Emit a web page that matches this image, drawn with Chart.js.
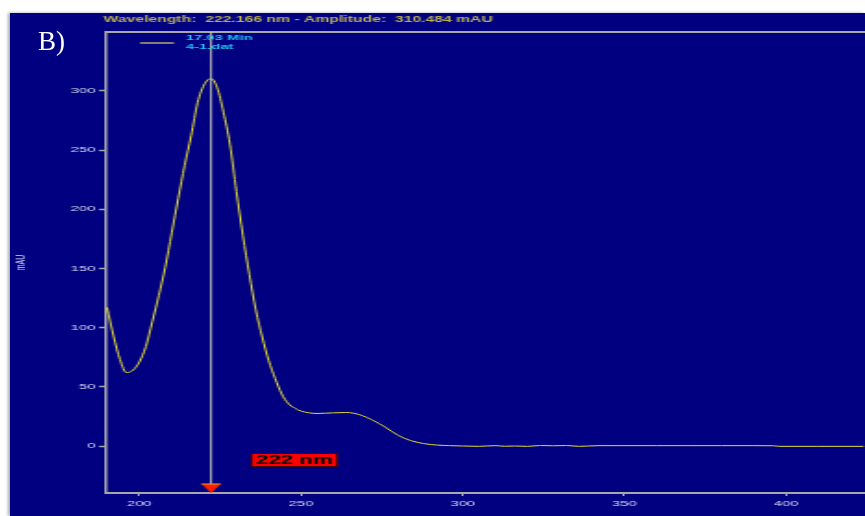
<!DOCTYPE html>
<html>
<head>
<meta charset="utf-8">
<script src="https://cdn.jsdelivr.net/npm/chart.js@4.4.1/dist/chart.umd.min.js"></script>
<style>
  html, body { margin: 0; padding: 0; background: #fff; overflow: hidden; }
  #spec {
    position: absolute; left: 10px; top: 13px;
    background: #000080;
    box-shadow: -2px 0 3px #aaa;
  }
  #panel {
    position: absolute; left: 38px; top: 26px;
    font-family: "Liberation Serif", "Times New Roman", serif;
    font-size: 27px; color: #fff;
  }
</style>
</head>
<body>
<canvas id="spec" width="462" height="503" style="width:855px;height:503px"></canvas>
<div id="panel">B)</div>
<script>
// UV spectrum at 17.03 min, file 4-1.dat
var wavelengths = [190, 192, 194, 196, 198, 200, 202, 204, 206, 208, 210, 212, 214, 216, 218, 220,
  222.166, 224, 226, 228, 230, 232, 234, 236, 238, 240, 242, 244, 246, 248, 250, 255, 260, 264,
  268, 272, 276, 280, 284, 288, 292, 296, 300, 305, 310, 313, 316, 320, 324, 328, 332, 336, 342,
  350, 360, 370, 380, 390, 396, 398, 410, 424];
var absorbance = [117, 93, 73, 62, 64, 71, 84, 105, 127, 151, 180, 209, 237, 262, 290, 305,
  310.484, 303, 282, 255, 215, 178, 145, 115, 92, 72, 57, 44, 36, 32, 29.5, 27.5, 28, 28.3,
  26.5, 22, 16, 9, 4.5, 2, 0.8, 0.3, 0, -0.3, 0.3, -0.2, 0, -0.3, 0.4, 0.2, 0.4, -0.3, 0.3,
  0.3, 0.3, 0.3, 0.3, 0.3, 0.2, -0.3, -0.3, -0.3];
var xTicks = [200, 250, 300, 350, 400];
var yTicks = [0, 50, 100, 150, 200, 250, 300];

var seriesLabel = '17.03 Min';
var fileName = '4-1.dat';
var cursorNm = 222.166;
var cursorAmp = 310.484;

var axisColor = '#a8a8a8';
var tickText = '#d8d8f4';

var points = [];
for (var i = 0; i < wavelengths.length; i++) {
  points.push({ x: wavelengths[i], y: absorbance[i] });
}

// frame, cursor, readout and legend drawn on top of the plot
var overlay = {
  id: 'overlay',
  afterDraw: function (chart) {
    var ctx = chart.ctx;
    var a = chart.chartArea;
    var cx = chart.scales.x.getPixelForValue(cursorNm);
    ctx.save();

    // top frame line
    ctx.strokeStyle = axisColor;
    ctx.lineWidth = 2;
    ctx.beginPath();
    ctx.moveTo(a.left, a.top);
    ctx.lineTo(a.right, a.top);
    ctx.stroke();

    // cursor line
    ctx.strokeStyle = '#c8c8b4';
    ctx.lineWidth = 1;
    ctx.beginPath();
    ctx.moveTo(cx, a.top);
    ctx.lineTo(cx, a.bottom - 9);
    ctx.stroke();

    // cursor marker
    ctx.fillStyle = '#ff1a00';
    ctx.strokeStyle = '#f0a020';
    ctx.beginPath();
    ctx.moveTo(cx - 5.2, a.bottom - 9);
    ctx.lineTo(cx + 5.2, a.bottom - 9);
    ctx.lineTo(cx, a.bottom);
    ctx.closePath();
    ctx.fill();
    ctx.beginPath();
    ctx.moveTo(cx - 5.2, a.bottom - 9);
    ctx.lineTo(cx + 5.2, a.bottom - 9);
    ctx.stroke();

    // wavelength box
    var bx = cx + 21.5, by = a.bottom - 40, bw = 47, bh = 14;
    ctx.fillStyle = '#ff0000';
    ctx.fillRect(bx, by, bw, bh);
    ctx.strokeStyle = '#400000';
    ctx.lineWidth = 1;
    ctx.strokeRect(bx + 0.5, by + 0.5, bw - 1, bh - 1);
    ctx.fillStyle = '#000';
    ctx.font = 'bold 12px "Liberation Sans", Arial, sans-serif';
    ctx.textAlign = 'center';
    ctx.textBaseline = 'middle';
    ctx.fillText(Math.round(cursorNm) + ' nm', bx + bw / 2, by + bh / 2 + 1);

    // readout above the frame
    ctx.fillStyle = '#bab050';
    ctx.font = 'bold 8.5px "Liberation Sans", Arial, sans-serif';
    ctx.textAlign = 'left';
    ctx.fillText('Wavelength:  ' + cursorNm.toFixed(3) + ' nm - Amplitude:  ' +
      cursorAmp.toFixed(3) + ' mAU', 50.5, 7);

    // legend
    ctx.strokeStyle = '#b0a870';
    ctx.lineWidth = 1.5;
    ctx.beginPath();
    ctx.moveTo(70.3, 30);
    ctx.lineTo(88.6, 30);
    ctx.stroke();
    ctx.fillStyle = '#20c0f0';
    ctx.font = 'bold 8px "Liberation Sans", Arial, sans-serif';
    ctx.fillText(chart.data.datasets[0].label, 95, 25);
    ctx.fillText(fileName, 95, 34);

    ctx.restore();
  }
};

new Chart(document.getElementById('spec').getContext('2d'), {
  type: 'line',
  data: {
    datasets: [{
      label: seriesLabel,
      data: points,
      borderColor: '#e4dc30',
      borderWidth: 1,
      pointRadius: 0,
      cubicInterpolationMode: 'monotone',
      fill: false
    }]
  },
  options: {
    responsive: false,
    animation: false,
    devicePixelRatio: 1,
    layout: { padding: { top: 19, left: 0, right: 0, bottom: 0 } },
    plugins: {
      legend: { display: false },
      tooltip: { enabled: false }
    },
    scales: {
      x: {
        type: 'linear',
        min: 189.7,
        max: 424.4,
        afterFit: function (s) { s.height = 23; },
        afterBuildTicks: function (s) { s.ticks = xTicks.map(function (v) { return { value: v }; }); },
        border: { color: axisColor, width: 2 },
        grid: { drawOnChartArea: false, color: axisColor, tickLength: 3, tickWidth: 1 },
        ticks: {
          color: tickText,
          font: { family: '"Liberation Sans", Arial, sans-serif', size: 8 },
          padding: 3,
          maxRotation: 0,
          autoSkip: false
        }
      },
      y: {
        min: -39.7,
        max: 349.7,
        afterFit: function (s) { s.width = 51.9; },
        afterBuildTicks: function (s) { s.ticks = yTicks.map(function (v) { return { value: v }; }); },
        border: { color: axisColor, width: 1.5 },
        grid: { drawOnChartArea: false, color: axisColor, tickLength: 3.8, tickWidth: 1.5 },
        title: {
          display: true,
          text: 'mAU',
          color: tickText,
          font: { family: '"Liberation Sans", Arial, sans-serif', size: 7 },
          padding: { top: 2, bottom: 0 }
        },
        ticks: {
          color: tickText,
          font: { family: '"Liberation Sans", Arial, sans-serif', size: 8 },
          padding: 2,
          autoSkip: false
        }
      }
    }
  },
  plugins: [overlay]
});
</script>
</body>
</html>
